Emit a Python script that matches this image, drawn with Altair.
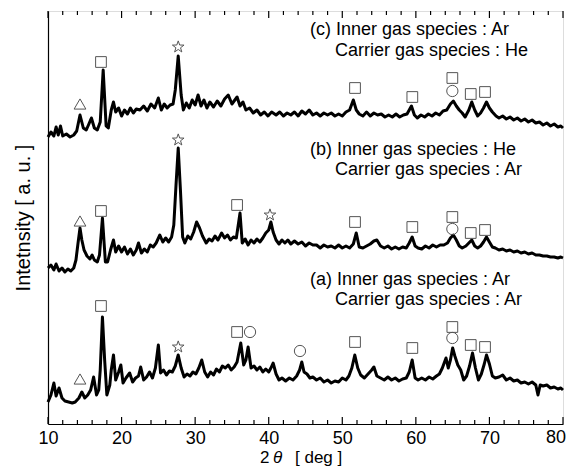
import altair as alt
import pandas as pd

# ---------------- data ----------------
# (c) Inner gas Ar / Carrier gas He
c_deg = [10.0, 10.4, 10.8, 11.1, 11.4, 11.7, 12.0, 12.5, 13.0, 13.5, 13.9, 14.35, 14.8, 15.2, 15.5, 15.9, 16.3, 16.7,
         17.1, 17.5, 17.9, 18.2, 18.6, 18.9, 19.2, 19.6, 20.0, 20.4, 20.8, 21.2, 21.6, 22.0, 22.5, 23.0, 23.5, 24.0,
         24.5, 25.0, 25.4, 25.8, 26.2, 26.6, 27.0, 27.3, 27.7, 28.1, 28.4, 28.8, 29.2, 29.6, 30.0, 30.4, 30.8, 31.2,
         31.6, 32.0, 32.5, 33.0, 33.5, 34.0, 34.5, 35.0, 35.4, 35.7, 36.1, 36.5, 36.9, 37.4, 37.9, 38.4, 38.9, 39.4,
         39.9, 40.4, 41.0, 41.5, 42.0, 42.5, 43.0, 43.5, 44.0, 44.5, 45.0, 45.5, 46.0, 46.5, 47.0, 47.5, 48.0, 48.5,
         49.0, 49.5, 50.0, 50.5, 51.0, 51.5, 51.9, 52.3, 52.8, 53.3, 53.8, 54.3, 54.8, 55.3, 55.8, 56.3, 56.8, 57.3,
         57.8, 58.3, 58.8, 59.4, 59.8, 60.2, 60.7, 61.2, 61.7, 62.2, 62.7, 63.2, 63.7, 64.2, 64.7, 65.1, 65.5, 65.9,
         66.3, 66.7, 67.2, 67.6, 68.0, 68.4, 68.8, 69.2, 69.6, 70.0, 70.4, 70.9, 71.3, 71.8, 72.3, 72.8, 73.3, 73.8,
         74.3, 74.8, 75.3, 75.8, 76.3, 76.8, 77.3, 77.8, 78.3, 78.8, 79.3, 79.7, 80.0]
c_int = [287, 292, 288, 297, 289, 298, 288, 290, 287, 289, 293, 309, 296, 294, 299, 306, 296, 294,
         302, 354, 298, 296, 314, 322, 312, 316, 308, 314, 310, 316, 311, 315, 314, 318, 313, 320,
         316, 326, 314, 320, 316, 319, 320, 334, 368, 329, 314, 321, 316, 324, 319, 329, 318, 324,
         316, 322, 317, 323, 318, 325, 329, 320, 324, 327, 318, 322, 314, 316, 311, 314, 309, 312,
         308, 312, 309, 312, 308, 311, 309, 312, 308, 313, 310, 314, 309, 311, 308, 311, 309, 311,
         308, 310, 308, 312, 314, 324, 314, 310, 308, 312, 308, 311, 309, 310, 307, 309, 307, 310,
         307, 309, 310, 318, 309, 306, 309, 307, 310, 308, 311, 309, 313, 314, 320, 323, 318, 314,
         311, 307, 314, 322, 314, 308, 311, 316, 322, 316, 312, 308, 306, 308, 305, 307, 304, 306,
         303, 305, 302, 304, 301, 302, 299, 301, 298, 300, 297, 298, 296]

# (b) Inner gas He / Carrier gas Ar
b_deg = [10.0, 10.4, 10.8, 11.1, 11.5, 11.9, 12.3, 12.7, 13.1, 13.5, 13.8, 14.1, 14.35, 14.6, 14.9, 15.3, 15.7, 16.0,
         16.3, 16.7, 17.0, 17.4, 17.8, 18.1, 18.5, 18.9, 19.2, 19.6, 20.0, 20.4, 20.8, 21.2, 21.6, 22.0, 22.3, 22.7,
         23.1, 23.5, 23.9, 24.3, 24.7, 25.2, 25.6, 26.0, 26.4, 26.8, 27.1, 27.4, 27.7, 28.0, 28.3, 28.6, 29.0, 29.4,
         29.8, 30.2, 30.6, 31.0, 31.5, 31.9, 32.3, 32.7, 33.1, 33.6, 34.0, 34.4, 34.8, 35.2, 35.6, 36.1, 36.4, 36.8,
         37.2, 37.6, 38.0, 38.4, 38.8, 39.2, 39.6, 40.0, 40.3, 40.6, 41.0, 41.4, 41.8, 42.2, 42.6, 43.0, 43.5, 44.0,
         44.5, 45.0, 45.5, 46.0, 46.5, 47.0, 47.5, 48.0, 48.5, 49.0, 49.5, 50.0, 50.5, 51.0, 51.5, 51.9, 52.3, 52.8,
         53.3, 53.8, 54.3, 54.7, 55.2, 55.7, 56.2, 56.7, 57.2, 57.7, 58.2, 58.7, 59.1, 59.5, 59.9, 60.3, 60.8, 61.3,
         61.8, 62.3, 62.8, 63.3, 63.8, 64.3, 64.7, 65.1, 65.5, 65.9, 66.3, 66.8, 67.2, 67.6, 68.0, 68.4, 68.8, 69.2,
         69.6, 70.0, 70.4, 70.8, 71.3, 71.8, 72.3, 72.8, 73.3, 73.8, 74.3, 74.8, 75.3, 75.8, 76.3, 76.8, 77.3, 77.8,
         78.3, 78.8, 79.3, 79.7, 80.0]
b_int = [156, 159, 154, 160, 153, 156, 152, 155, 153, 156, 164, 182, 196, 184, 174, 168, 165, 169,
         164, 162, 169, 206, 162, 162, 174, 184, 172, 178, 172, 177, 170, 175, 169, 174, 181, 171,
         175, 172, 179, 177, 181, 189, 182, 186, 182, 187, 199, 239, 276, 234, 187, 181, 188, 185,
         192, 202, 196, 188, 181, 185, 183, 188, 184, 191, 186, 189, 184, 187, 186, 211, 181, 185,
         179, 184, 181, 185, 182, 186, 191, 194, 202, 192, 184, 180, 184, 181, 184, 180, 183, 180,
         182, 178, 181, 179, 179, 176, 179, 177, 178, 176, 179, 176, 178, 176, 180, 191, 177, 176,
         178, 180, 183, 184, 178, 176, 178, 175, 177, 175, 177, 176, 181, 187, 178, 176, 175, 178,
         176, 179, 177, 179, 179, 181, 186, 189, 184, 178, 176, 178, 181, 184, 178, 176, 178, 182,
         187, 182, 177, 176, 174, 175, 173, 174, 172, 173, 171, 172, 170, 171, 169, 169, 168, 168,
         167, 167, 166, 167, 166]

# (a) Inner gas Ar / Carrier gas Ar
a_deg = [10.0, 10.4, 10.8, 11.1, 11.5, 11.9, 12.3, 12.8, 13.3, 13.7, 14.2, 14.6, 15.0, 15.4, 15.8, 16.2, 16.6, 16.9,
         17.1, 17.4, 17.7, 18.0, 18.4, 18.6, 18.9, 19.2, 19.6, 19.9, 20.2, 20.6, 21.1, 21.5, 21.9, 22.3, 22.6, 23.0,
         23.4, 23.8, 24.2, 24.6, 25.0, 25.3, 25.7, 26.1, 26.5, 26.9, 27.3, 27.7, 28.1, 28.5, 28.9, 29.3, 29.7, 30.1,
         30.5, 30.9, 31.3, 31.7, 32.1, 32.5, 32.9, 33.3, 33.7, 34.1, 34.5, 34.9, 35.3, 35.7, 36.2, 36.6, 36.9, 37.2,
         37.6, 38.0, 38.4, 38.8, 39.2, 39.6, 40.0, 40.3, 40.6, 41.0, 41.4, 41.8, 42.3, 42.8, 43.3, 43.8, 44.2, 44.5,
         44.8, 45.2, 45.6, 46.0, 46.5, 47.0, 47.5, 48.0, 48.5, 49.0, 49.5, 50.0, 50.5, 50.9, 51.3, 51.7, 52.1, 52.5,
         53.0, 53.5, 54.0, 54.3, 54.7, 55.2, 55.7, 56.2, 56.7, 57.2, 57.7, 58.2, 58.7, 59.1, 59.5, 59.9, 60.3, 60.8,
         61.3, 61.8, 62.3, 62.8, 63.2, 63.6, 64.1, 64.4, 64.7, 65.0, 65.3, 65.7, 66.1, 66.5, 66.9, 67.3, 67.7, 68.1,
         68.5, 68.9, 69.3, 69.6, 70.0, 70.4, 70.8, 71.3, 71.8, 72.3, 72.8, 73.3, 73.8, 74.3, 74.8, 75.3, 75.8, 76.3,
         76.6, 76.9, 77.3, 77.8, 78.3, 78.8, 79.3, 79.7, 80.0]
a_int = [22, 29, 41, 28, 36, 26, 23, 22, 21, 22, 26, 32, 26, 29, 34, 47, 29, 34,
         54, 107, 64, 29, 39, 54, 69, 44, 52, 59, 41, 46, 51, 42, 46, 48, 57, 44,
         47, 52, 46, 56, 79, 51, 54, 49, 53, 52, 58, 69, 56, 47, 50, 48, 52, 50,
         56, 64, 52, 47, 52, 49, 55, 52, 58, 56, 59, 54, 57, 62, 81, 59, 64, 77,
         56, 58, 54, 57, 52, 55, 52, 56, 61, 50, 44, 46, 43, 46, 44, 48, 54, 62,
         52, 50, 46, 47, 44, 46, 42, 44, 41, 43, 42, 46, 44, 48, 56, 69, 56, 49,
         46, 50, 54, 57, 48, 46, 44, 47, 44, 46, 43, 45, 46, 52, 64, 46, 44, 46,
         44, 47, 45, 48, 50, 56, 66, 56, 64, 76, 68, 59, 54, 44, 48, 58, 71, 56,
         44, 50, 60, 69, 60, 48, 46, 47, 49, 44, 46, 43, 44, 41, 42, 40, 42, 39,
         29, 39, 38, 39, 36, 37, 35, 36, 34]

# phase markers (2theta, height) per pattern
sym_deg = [14.35, 17.2, 27.7, 51.73, 59.52, 64.96, 64.96, 67.46, 69.4,
           14.35, 17.2, 27.7, 35.7, 40.17, 51.73, 59.52, 64.96, 64.96, 67.46, 69.4,
           14.35, 17.2, 27.7, 35.7, 37.46, 44.25, 51.73, 59.52, 64.96, 64.96, 67.46, 69.4]
sym_int = [320, 362, 377, 336, 327, 346, 333, 330, 332,
           203, 213, 284, 219, 209, 202, 197, 207, 195, 191, 194,
           45, 118, 77, 92, 92, 73, 82, 76, 97, 86, 79, 77]
sym_kind = ["triangle", "square", "star", "square", "square", "square", "circle", "square", "square",
            "triangle", "square", "star", "square", "star", "square", "square", "square", "circle", "square", "square",
            "triangle", "square", "star", "square", "circle", "circle", "square", "square", "square", "circle", "square", "square"]

# labels
lab_text = ["(c) Inner gas species : Ar", "Carrier gas species : He",
            "(b) Inner gas species : He", "Carrier gas species : Ar",
            "(a) Inner gas species : Ar", "Carrier gas species : Ar"]
lab_deg = [45.61, 49.01, 45.61, 49.01, 45.61, 49.01]
lab_int = [389, 368, 269, 249, 139, 119]

major_ticks = [10, 20, 30, 40, 50, 60, 70, 80]
minor_ticks = [12, 14, 16, 18, 22, 24, 26, 28, 32, 34, 36, 38, 42, 44, 46, 48,
               52, 54, 56, 58, 62, 64, 66, 68, 72, 74, 76, 78]

# ---------------- tables ----------------
traces = pd.concat([
    pd.DataFrame({"deg": c_deg, "inten": c_int, "s": "c"}),
    pd.DataFrame({"deg": b_deg, "inten": b_int, "s": "b"}),
    pd.DataFrame({"deg": a_deg, "inten": a_int, "s": "a"}),
])
syms = pd.DataFrame({"deg": sym_deg, "inten": sym_int, "kind": sym_kind})
labs = pd.DataFrame({"deg": lab_deg, "inten": lab_int, "t": lab_text})
majors = pd.DataFrame({"deg": major_ticks})
minors = pd.DataFrame({"deg": minor_ticks})
last_lab = pd.DataFrame({"deg": major_ticks[-1:], "t": [str(v) for v in major_ticks[-1:]]})

W, H = 515, 413
FONT = "Liberation Sans"
STAR = "M0,-1L0.235,-0.324L0.951,-0.309L0.38,0.124L0.588,0.809L0,0.4L-0.588,0.809L-0.38,0.124L-0.951,-0.309L-0.235,-0.324Z"

xs = alt.Scale(domain=[10, 80], nice=False, zero=False)
ys = alt.Scale(domain=[0, 413], nice=False, zero=False)

LP = 5
x_axis = alt.Axis(values=major_ticks[:-1], ticks=False, labelFontSize=18, labelFont=FONT, labelColor="black",
                  labelPadding=LP, labelFlush=False, domainColor="black", domainWidth=1.2, grid=False, title=None)
y_axis = alt.Axis(labels=False, ticks=False, grid=False, domainColor="black", domainWidth=1.2,
                  title="Intetnsity [ a. u. ]", titleFont=FONT, titleFontSize=20, titleFontWeight="normal",
                  titleColor="black", titleX=-25, titleY=H / 2, titleAngle=270, titleAlign="center",
                  titleBaseline="middle")

lines = alt.Chart(traces).mark_line(color="black", strokeWidth=3, strokeJoin="round").encode(
    x=alt.X("deg:Q", scale=xs, axis=x_axis),
    y=alt.Y("inten:Q", scale=ys, axis=y_axis),
    detail="s:N",
)

points = alt.Chart(syms).mark_point(filled=False, stroke="#555555", strokeWidth=1, size=120, opacity=1).encode(
    x="deg:Q", y="inten:Q",
    shape=alt.Shape("kind:N", legend=None,
                    scale=alt.Scale(domain=["square", "circle", "triangle", "star"],
                                    range=["square", "circle", "triangle-up", STAR])),
    size=alt.Size("kind:N", legend=None,
                  scale=alt.Scale(domain=["square", "circle", "triangle", "star"],
                                  range=[115, 150, 150, 190])),
)

labels = alt.Chart(labs).mark_text(align="left", baseline="alphabetic", font=FONT, fontSize=18,
                                   color="black").encode(x="deg:Q", y="inten:Q", text="t:N")

# last tick label kept inside the page
end_label = alt.Chart(last_lab).mark_text(align="right", baseline="top", font=FONT, fontSize=18, color="black",
                                          dx=3).encode(x="deg:Q", y=alt.value(H + LP), text="t:N")

tick_major_b = alt.Chart(majors).mark_rule(color="black", strokeWidth=1.2).encode(
    x="deg:Q", y=alt.value(H), y2=alt.value(H - 7))
tick_major_t = alt.Chart(majors).mark_rule(color="black", strokeWidth=1.2).encode(
    x="deg:Q", y=alt.value(0), y2=alt.value(7))
tick_minor_b = alt.Chart(minors).mark_rule(color="black", strokeWidth=1.2).encode(
    x="deg:Q", y=alt.value(H), y2=alt.value(H - 4))
tick_minor_t = alt.Chart(minors).mark_rule(color="black", strokeWidth=1.2).encode(
    x="deg:Q", y=alt.value(0), y2=alt.value(4))

title_df = pd.DataFrame({"a": [1]})
TY = H + 39
t2 = alt.Chart(title_df).mark_text(text="2", align="left", baseline="alphabetic", font=FONT, fontSize=17,
                                   color="black").encode(x=alt.value(212), y=alt.value(TY))
tth = alt.Chart(title_df).mark_text(text="θ", align="left", baseline="alphabetic", font=FONT, fontSize=17,
                                    fontStyle="italic", color="black").encode(x=alt.value(225), y=alt.value(TY))
tdeg = alt.Chart(title_df).mark_text(text="[ deg ]", align="left", baseline="alphabetic", font=FONT, fontSize=17,
                                     color="black").encode(x=alt.value(247), y=alt.value(TY))

chart = alt.layer(lines, points, labels, end_label, tick_major_b, tick_major_t, tick_minor_b, tick_minor_t,
                  t2, tth, tdeg).properties(
    width=W, height=H,
    autosize=alt.AutoSizeParams(type="none"),
    padding={"left": 40, "top": 3, "right": 4, "bottom": 42},
).configure_view(stroke="black", strokeWidth=1.2).configure(background="white")

chart.save("out.html", embed_options={"renderer": "svg", "actions": False})
